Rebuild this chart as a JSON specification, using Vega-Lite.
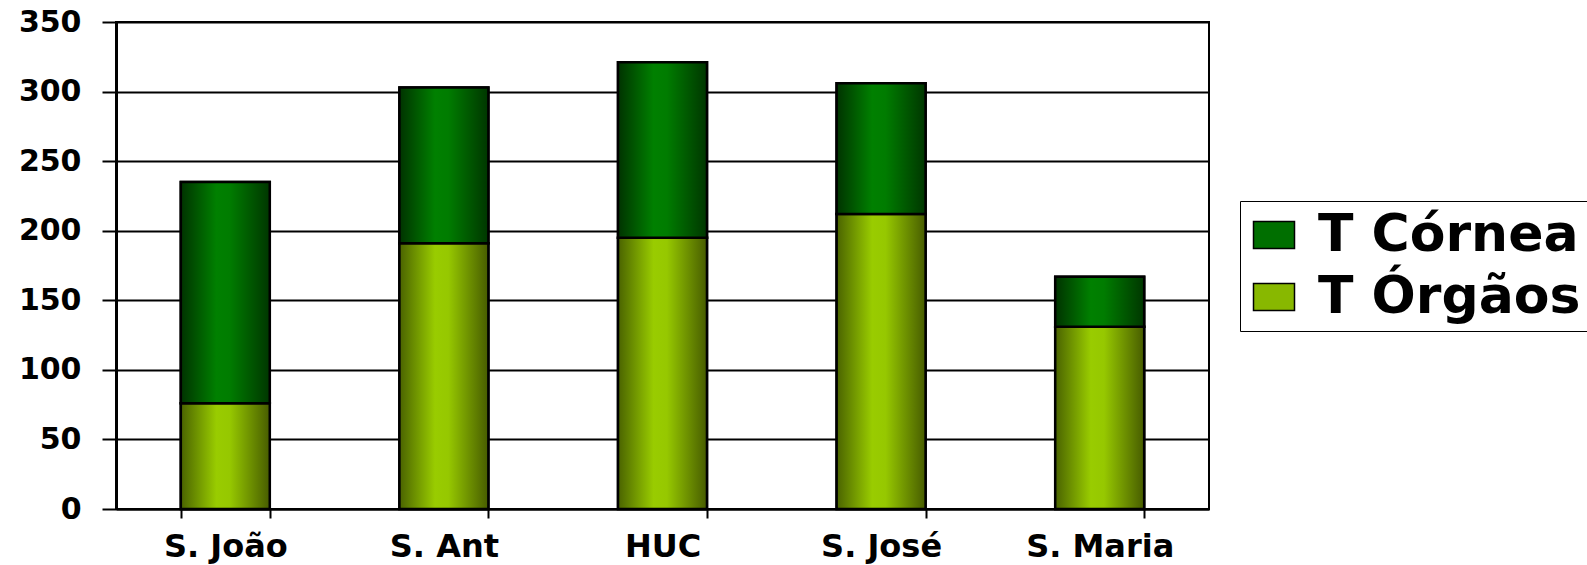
{
  "$schema": "https://vega.github.io/schema/vega-lite/v6.json",
  "autosize": {"type": "none"},
  "width": 1093,
  "height": 487,
  "padding": {"left": 116, "top": 22, "right": 378, "bottom": 56},
  "background": "white",
  "config": {
    "view": {"stroke": "black", "strokeWidth": 2},
    "font": "DejaVu Sans"
  },
  "data": {
    "values": [
      {"hospital": "S. João", "series": "T Órgãos", "value": 76},
      {"hospital": "S. João", "series": "T Córnea", "value": 159},
      {"hospital": "S. Ant", "series": "T Órgãos", "value": 191},
      {"hospital": "S. Ant", "series": "T Córnea", "value": 112},
      {"hospital": "HUC", "series": "T Órgãos", "value": 195},
      {"hospital": "HUC", "series": "T Córnea", "value": 126},
      {"hospital": "S. José", "series": "T Órgãos", "value": 212},
      {"hospital": "S. José", "series": "T Córnea", "value": 94},
      {"hospital": "S. Maria", "series": "T Órgãos", "value": 131},
      {"hospital": "S. Maria", "series": "T Córnea", "value": 36}
    ]
  },
  "transform": [
    {"stack": "value", "groupby": ["hospital"], "sort": [{"field": "series", "order": "descending"}], "as": ["y0", "y1"]}
  ],
  "encoding": {
    "x": {
      "field": "hospital", "type": "nominal", "sort": null,
      "scale": {"paddingInner": 0.593, "paddingOuter": 0.2965},
      "axis": {
        "title": null, "labelAngle": 0, "tickBand": "extent",
        "domainColor": "black", "domainWidth": 2,
        "tickColor": "black", "tickWidth": 2, "tickSize": 9,
        "labelFont": "DejaVu Sans", "labelFontWeight": "bold", "labelFontSize": 32,
        "labelColor": "black", "labelPadding": 13
      }
    },
    "y": {
      "field": "y0", "type": "quantitative",
      "scale": {"domain": [0, 350], "nice": false},
      "axis": {
        "title": null, "values": [0, 50, 100, 150, 200, 250, 300, 350],
        "grid": true, "gridColor": "black", "gridWidth": 2, "gridOpacity": 1,
        "domainColor": "black", "domainWidth": 3,
        "tickColor": "black", "tickWidth": 2, "tickSize": 14,
        "labelFont": "DejaVu Sans", "labelFontWeight": "bold", "labelFontSize": 30,
        "labelColor": "black", "labelPadding": 21
      }
    },
    "y2": {"field": "y1"}
  },
  "layer": [
    {
      "mark": {"type": "bar", "stroke": "black", "strokeWidth": 2.5},
      "encoding": {
        "color": {
          "field": "series", "type": "nominal",
          "scale": {"domain": ["T Córnea", "T Órgãos"], "range": ["#006f00", "#88b800"]},
          "legend": {
            "title": null, "orient": "none", "legendX": 1124, "legendY": 179,
            "strokeColor": "black", "fillColor": "white", "padding": 8,
            "symbolType": "M-1,-0.66H1V0.66H-1Z", "symbolSize": 1681,
            "symbolStrokeColor": "black", "symbolStrokeWidth": 1.5, "symbolOpacity": 1,
            "labelFont": "DejaVu Sans", "labelFontWeight": "bold", "labelFontSize": 52,
            "labelColor": "black", "labelOffset": 18, "rowPadding": 10, "labelLimit": 1000
          }
        }
      }
    },
    {
      "transform": [{"filter": "datum.series === 'T Órgãos'"}],
      "mark": {
        "type": "bar", "stroke": "black", "strokeWidth": 2.5,
        "fill": {"gradient": "linear", "x1": 0, "y1": 0, "x2": 1, "y2": 0,
          "stops": [
            {"offset": 0, "color": "#4a6300"},
            {"offset": 0.4, "color": "#99cc00"},
            {"offset": 0.55, "color": "#96c800"},
            {"offset": 1, "color": "#475c00"}
          ]}
      }
    },
    {
      "transform": [{"filter": "datum.series === 'T Córnea'"}],
      "mark": {
        "type": "bar", "stroke": "black", "strokeWidth": 2.5,
        "fill": {"gradient": "linear", "x1": 0, "y1": 0, "x2": 1, "y2": 0,
          "stops": [
            {"offset": 0, "color": "#003300"},
            {"offset": 0.4, "color": "#008000"},
            {"offset": 0.55, "color": "#007c00"},
            {"offset": 1, "color": "#003600"}
          ]}
      }
    }
  ]
}
